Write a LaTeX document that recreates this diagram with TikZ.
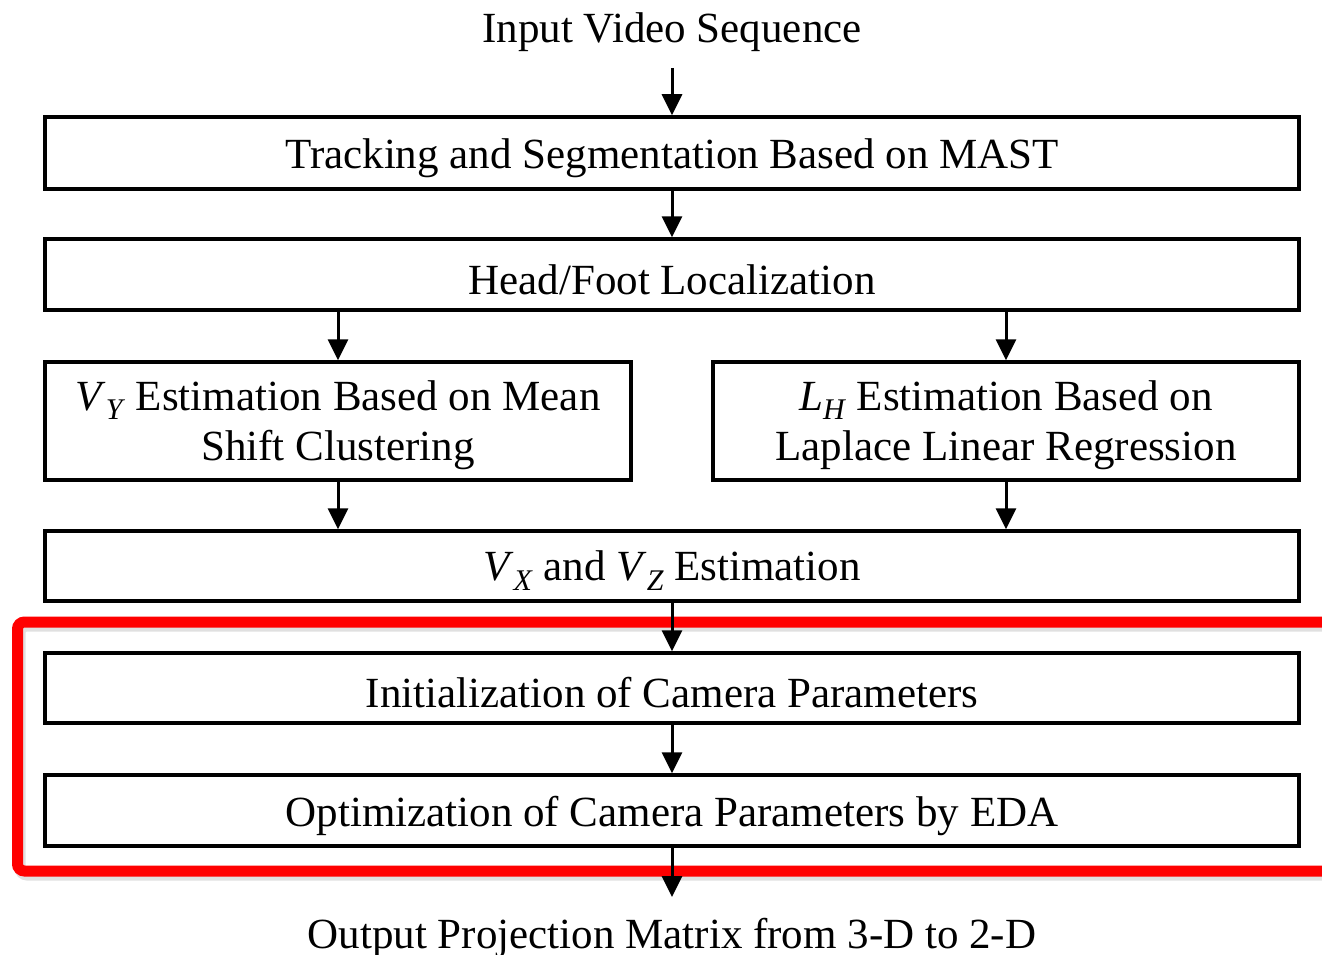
\documentclass[tikz,border=0pt]{standalone}
\usepackage{fontspec}
\setmainfont{Liberation Serif}
\usetikzlibrary{arrows.meta}
\newcommand{\mysub}[1]{\raisebox{-0.5ex}{\fontsize{30}{32}\selectfont\textit{#1}}}
\newcommand{\dn}[1]{\raisebox{-5pt}[\height][\depth]{#1}}
\newcommand{\twolines}[2]{\raisebox{-4pt}[\height][\depth]{\begin{tabular}{@{}c@{}}#1\\#2\end{tabular}}}
\tikzset{
  flowbox/.style={draw=black, line width=3.5pt, inner sep=0pt, align=center,
    font=\fontsize{43}{50}\selectfont, fill=white},
  plaintext/.style={inner sep=0pt, font=\fontsize{43}{50}\selectfont},
  flowarrow/.style={line width=3pt, -{Triangle[width=20pt,length=21pt]}},
  redframe/.style={draw=red, line width=11pt, rounded corners=7pt}
}
\begin{document}
\begin{tikzpicture}[x=1pt,y=-1pt]
\useasboundingbox (0,0) rectangle (1322,955);
\begin{scope}
\clip (0,0) rectangle (1322,955);
% shadow + red frame
\draw[black!20, line width=11pt, rounded corners=7pt, opacity=0.6] (20,626) rectangle (1345,875);
\draw[redframe] (17.5,622) rectangle (1345,871);
\end{scope}

\node[plaintext, anchor=base] (in) at (672,43) {Input Video Sequence};
\node[flowbox, minimum width=1254pt, minimum height=72pt] (b1) at (672,153) {\dn{Tracking and Segmentation Based on MAST}};
\node[flowbox, minimum width=1254pt, minimum height=71pt] (b2) at (672,274.5) {\dn{Head/Foot Localization}};
\node[flowbox, minimum width=586pt, minimum height=118pt] (b3) at (338,421)
  {\twolines{\textit{V}\mysub{Y} Estimation Based on Mean}{Shift Clustering}};
\node[flowbox, minimum width=586pt, minimum height=118pt] (b4) at (1006,421)
  {\twolines{\textit{L}\mysub{H} Estimation Based on}{Laplace Linear Regression}};
\node[flowbox, minimum width=1254pt, minimum height=70pt] (b5) at (672,566)
  {\dn{\textit{V}\mysub{X} and \textit{V}\mysub{Z} Estimation}};
\node[flowbox, minimum width=1254pt, minimum height=70pt] (b6) at (672,688) {\dn{Initialization of Camera Parameters}};
\node[flowbox, minimum width=1254pt, minimum height=71pt] (b7) at (672,810.5) {\dn{Optimization of Camera Parameters by EDA}};
\node[plaintext, anchor=base] (out) at (672,948) {Output Projection Matrix from 3-D to 2-D};

\coordinate (inb) at (672,68);
\draw[flowarrow] (inb) -- (b1.north);
\draw[flowarrow] (b1.south) -- (b2.north);
\draw[flowarrow] (b2.south -| b3.north) -- (b3.north);
\draw[flowarrow] (b2.south -| b4.north) -- (b4.north);
\draw[flowarrow] (b3.south) -- (b3.south |- b5.north);
\draw[flowarrow] (b4.south) -- (b4.south |- b5.north);
\draw[flowarrow] (b5.south) -- (b6.north);
\draw[flowarrow] (b6.south) -- (b7.north);
\coordinate (outt) at (672,897);
\draw[flowarrow] (b7.south) -- (outt);
\end{tikzpicture}
\end{document}
